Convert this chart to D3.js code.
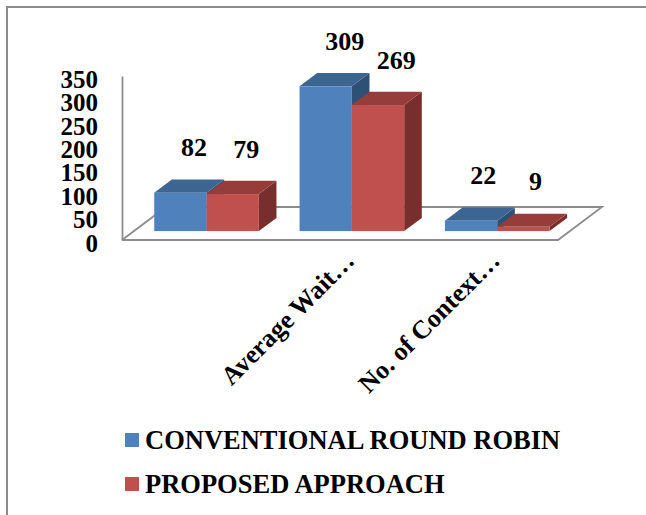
<!DOCTYPE html>
<html>
<head>
<meta charset="utf-8">
<script src="https://cdn.jsdelivr.net/npm/d3@7"></script>
<style>
  body { margin: 0; background: #fff; }
  svg { display: block; }
  text { font-family: "Liberation Serif", "Times New Roman", serif; font-weight: bold; fill: #000; }
</style>
</head>
<body>
<svg id="chart"></svg>
<script>
// data
const categoryLabels = ["", "Average Wait\u2026", "No. of Context\u2026"];
const seriesNames = ["CONVENTIONAL ROUND ROBIN", "PROPOSED APPROACH"];
const conventional = [82, 309, 22];
const proposed = [79, 269, 9];
const yTicks = [0, 50, 100, 150, 200, 250, 300, 350];

const width = 646, height = 515;

const svg = d3.select("#chart")
  .attr("width", width)
  .attr("height", height);

// outer frame (only top and left edges fall inside the picture)
svg.append("rect")
  .attr("x", 7).attr("y", 7)
  .attr("width", 800).attr("height", 700)
  .attr("fill", "none")
  .attr("stroke", "#8c8c8c")
  .attr("stroke-width", 2);

// 3D set-up: front floor edge and oblique depth vector
const x0 = 122, x1 = 558, yFloor = 240;
const DX = 44, DY = 33;          // full floor depth
const frontFrac = 0.27, depthFrac = 0.4;

const xCat = d3.scaleBand()
  .domain(d3.range(categoryLabels.length))
  .range([x0, x1])
  .paddingInner(0.28)
  .paddingOuter(0.14);

const xSer = d3.scaleBand()
  .domain([0, 1])
  .range([0, xCat.bandwidth()]);

const yAxisScale = d3.scaleLinear()
  .domain([0, 350])
  .range([yFloor, yFloor - 164]);

const hScale = d3.scaleLinear()
  .domain([0, 350])
  .range([0, 164]);

const colors = [
  { front: "#4f81bd", top: "#3d6592", side: "#2f5075" },
  { front: "#c0504d", top: "#963c3a", side: "#782e2c" }
];

// floor outline
svg.append("path")
  .attr("d", d3.line()([
    [x0, yFloor], [x1, yFloor], [x1 + DX, yFloor - DY], [x0 + DX, yFloor - DY], [x0, yFloor]
  ]))
  .attr("fill", "none")
  .attr("stroke", "#8c8c8c")
  .attr("stroke-width", 1.8);

// value axis
const yAxis = svg.append("g")
  .attr("transform", `translate(${x0},0)`)
  .call(d3.axisLeft(yAxisScale).tickValues(yTicks).tickSize(0).tickPadding(24));
yAxis.select(".domain").attr("stroke", "#8c8c8c").attr("stroke-width", 1.8);
yAxis.selectAll("text")
  .attr("dy", "0.45em")
  .style("font-size", "25px")
  .style("font-family", "'Liberation Serif', 'Times New Roman', serif")
  .style("font-weight", "bold")
  .attr("fill", "#000");

// bars
const bars = [];
categoryLabels.forEach((c, i) => {
  [conventional[i], proposed[i]].forEach((v, s) => bars.push({ i, s, v }));
});

const fdx = DX * frontFrac, fdy = DY * frontFrac;
const bdx = DX * depthFrac, bdy = DY * depthFrac;

const barG = svg.selectAll(".bar")
  .data(bars)
  .enter()
  .append("g")
  .attr("class", "bar");

barG.each(function (d) {
  const g = d3.select(this);
  const w = xSer.bandwidth();
  const fx = xCat(d.i) + xSer(d.s) + fdx;
  const yb = yFloor - fdy;
  const h = hScale(d.v);
  const yt = yb - h;
  const col = colors[d.s];

  g.append("path")
    .attr("d", d3.line()([[fx + w, yt], [fx + w + bdx, yt - bdy], [fx + w + bdx, yb - bdy], [fx + w, yb]]) + "Z")
    .attr("fill", col.side);
  g.append("path")
    .attr("d", d3.line()([[fx, yt], [fx + bdx, yt - bdy], [fx + w + bdx, yt - bdy], [fx + w, yt]]) + "Z")
    .attr("fill", col.top);
  g.append("rect")
    .attr("x", fx).attr("y", yt)
    .attr("width", w).attr("height", h)
    .attr("fill", col.front);
});

// data labels
svg.selectAll(".dlabel")
  .data(bars)
  .enter()
  .append("text")
  .attr("class", "dlabel")
  .attr("x", d => xCat(d.i) + xSer(d.s) + fdx + xSer.bandwidth() / 2 + bdx / 2 + 3 + 0.05 * hScale(d.v))
  .attr("y", d => yFloor - fdy - hScale(d.v) - bdy / 2 - 39)
  .attr("dy", "0.35em")
  .attr("text-anchor", "middle")
  .style("font-size", "26px")
  .text(d => d.v);

// category labels
svg.selectAll(".clabel")
  .data(categoryLabels)
  .enter()
  .append("text")
  .attr("class", "clabel")
  .attr("transform", (d, i) => `translate(${xCat(i) + xCat.bandwidth() / 2 + 16},${yFloor + 22}) rotate(-45)`)
  .attr("text-anchor", "end")
  .style("font-size", "26px")
  .text(d => d);

// legend
const legend = svg.selectAll(".legend")
  .data(seriesNames)
  .enter()
  .append("g")
  .attr("class", "legend")
  .attr("transform", (d, i) => `translate(125,${449 + i * 44})`);

legend.append("rect")
  .attr("x", 0).attr("y", -16)
  .attr("width", 14).attr("height", 14)
  .attr("fill", (d, i) => colors[i].front);

legend.append("text")
  .attr("x", 20).attr("y", 0)
  .style("font-size", "26.5px")
  .text(d => d);
</script>
</body>
</html>
